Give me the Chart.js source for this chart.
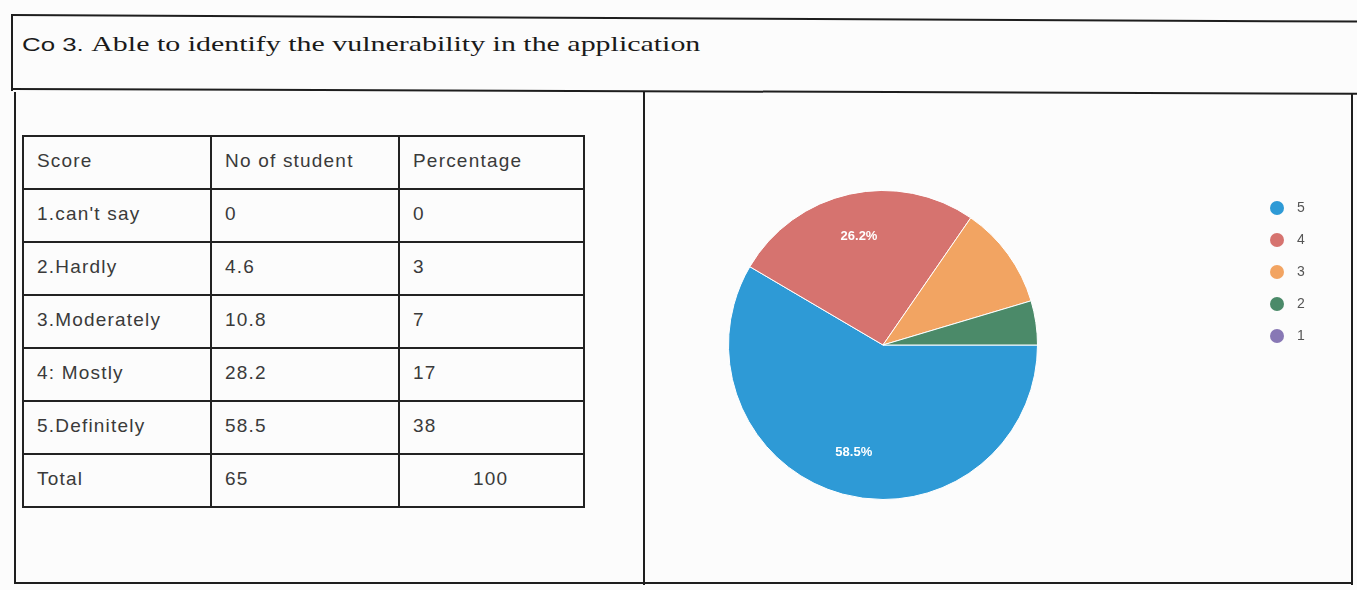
<!DOCTYPE html>
<html>
<head>
<meta charset="utf-8">
<script src="https://cdn.jsdelivr.net/npm/chart.js@4"></script>
<style>
  body { margin: 0; width: 1357px; height: 590px; background: #fcfcfc; position: relative; overflow: hidden; }
  .ln { position: absolute; background: #1e1e1e; }
  .title { position: absolute; left: 22px; top: 31px; font-size: 22px; color: #1a1a1a; white-space: nowrap; transform: scaleX(1.36); transform-origin: 0 0; }
  .title .co { font-family: "Liberation Sans", Arial, sans-serif; font-size: 19px; }
  .title .rest { font-family: "Liberation Serif", "Times New Roman", serif; }
  table { position: absolute; left: 22px; top: 135px; border-collapse: collapse; table-layout: fixed; width: 563px; font-family: "Liberation Sans", Arial, sans-serif; font-size: 19px; color: #3a3a3a; letter-spacing: 1.2px; }
  td { border: 2px solid #222; height: 47px; padding: 0 0 4px 13px; vertical-align: middle; overflow: hidden; white-space: nowrap; }
  td.c1 { width: 173px; }
  td.c2 { width: 173px; }
  td.c3 { width: 170px; }
  td.total { text-indent: 60px; }
  #wrap { position: absolute; left: 646px; top: 92px; width: 704px; height: 490px; }
</style>
</head>
<body>
<div class="ln" style="left:11px; top:14px; width:1346px; height:2px; transform:rotate(0.28deg); transform-origin:0 0;"></div>
<div class="ln" style="left:11px; top:14px; width:2px; height:77px;"></div>
<div class="ln" style="left:11px; top:88px; width:1346px; height:2px; transform:rotate(0.2deg); transform-origin:0 0;"></div>
<div class="ln" style="left:14px; top:92px; width:2px; height:491px;"></div>
<div class="ln" style="left:643px; top:92px; width:2px; height:493px;"></div>
<div class="ln" style="left:1351px; top:93px; width:2px; height:492px;"></div>
<div class="ln" style="left:14px; top:582px; width:1339px; height:2px;"></div>

<div class="title"><span class="co">Co 3.</span> <span class="rest">Able to identify the vulnerability in the application</span></div>

<table id="scoreTable"></table>

<div id="wrap"><canvas id="pie"></canvas></div>

<script>
// table data (copied as printed)
const tableHeaders = ['Score', 'No of student', 'Percentage'];
const tableScores = ['1.can\'t say', '2.Hardly', '3.Moderately', '4: Mostly', '5.Definitely'];
const tableNoOfStudent = ['0', '4.6', '10.8', '28.2', '58.5'];
const tablePercentage = ['0', '3', '7', '17', '38'];
const tableTotal = ['Total', '65', '100'];

// pie data
const pieLabels = ['5', '4', '3', '2', '1'];
const pieCounts = [38, 17, 7, 3, 0];
const pieColors = ['#2e9ad6', '#d6736f', '#f2a462', '#4b8a69', '#8878b5'];

function buildTable() {
    const table = document.getElementById('scoreTable');
    let html = '<tr>' + tableHeaders.map((h, i) => `<td class="c${i + 1}">${h}</td>`).join('') + '</tr>';
    tableScores.forEach((score, i) => {
        html += `<tr><td class="c1">${score}</td><td class="c2">${tableNoOfStudent[i]}</td><td class="c3">${tablePercentage[i]}</td></tr>`;
    });
    html += `<tr><td class="c1">${tableTotal[0]}</td><td class="c2">${tableTotal[1]}</td><td class="c3 total">${tableTotal[2]}</td></tr>`;
    table.innerHTML = html;
}

// percent labels inside the big slices
const sliceLabels = {
    id: 'sliceLabels',
    afterDatasetsDraw(chart) {
        const ctx = chart.ctx;
        const meta = chart.getDatasetMeta(0);
        const data = chart.data.datasets[0].data;
        const total = data.reduce((a, b) => a + b, 0);
        ctx.save();
        ctx.font = 'bold 13px "Liberation Sans", Arial, sans-serif';
        ctx.fillStyle = '#ffffff';
        ctx.textAlign = 'center';
        ctx.textBaseline = 'middle';
        meta.data.forEach((arc, i) => {
            const pct = data[i] / total * 100;
            if (pct < 15) return;
            const mid = (arc.startAngle + arc.endAngle) / 2;
            const r = arc.outerRadius * 0.72;
            ctx.fillText(pct.toFixed(1) + '%', arc.x + Math.cos(mid) * r, arc.y + Math.sin(mid) * r);
        });
        ctx.restore();
    }
};

// legend on the far right, drawn from the chart data
const sideLegend = {
    id: 'sideLegend',
    afterDraw(chart) {
        const ctx = chart.ctx;
        const colors = chart.data.datasets[0].backgroundColor;
        ctx.save();
        ctx.font = '14px "Liberation Sans", Arial, sans-serif';
        ctx.textBaseline = 'middle';
        chart.data.labels.forEach((label, i) => {
            const y = 116 + i * 32;
            ctx.fillStyle = colors[i];
            ctx.beginPath();
            ctx.arc(631, y, 7, 0, Math.PI * 2);
            ctx.fill();
            ctx.fillStyle = '#555555';
            ctx.fillText(label, 651, y);
        });
        ctx.restore();
    }
};

buildTable();

new Chart(document.getElementById('pie'), {
    type: 'pie',
    data: {
        labels: pieLabels,
        datasets: [{
            data: pieCounts,
            backgroundColor: pieColors,
            borderColor: '#ffffff',
            borderWidth: 1
        }]
    },
    options: {
        responsive: true,
        maintainAspectRatio: false,
        animation: false,
        rotation: 90,
        layout: { padding: { left: 82, right: 312, top: 98, bottom: 82 } },
        plugins: {
            legend: { display: false },
            tooltip: { enabled: false }
        },
        events: []
    },
    plugins: [sliceLabels, sideLegend]
});
</script>
</body>
</html>
